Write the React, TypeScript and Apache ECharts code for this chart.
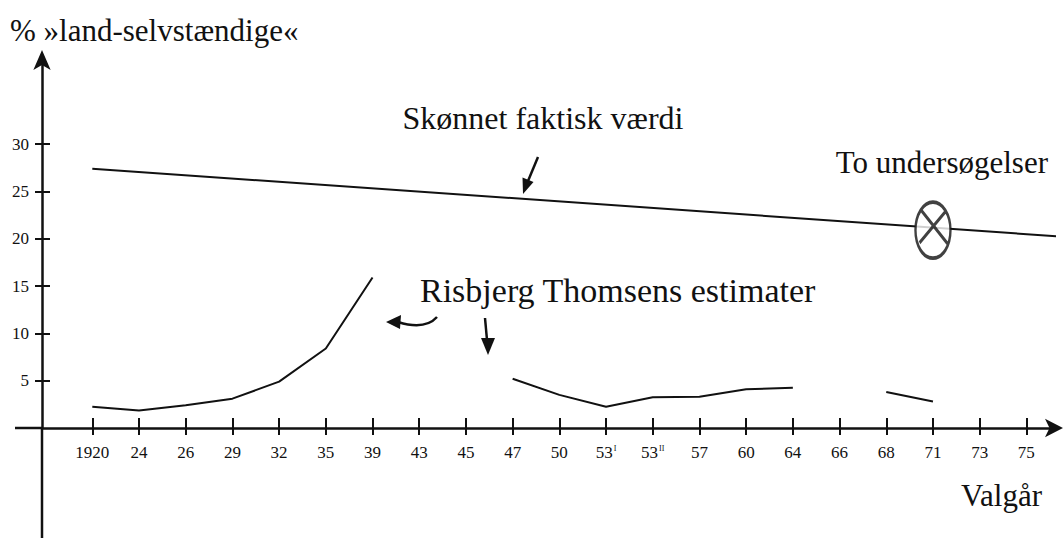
import React, { useEffect, useRef } from "react";
import * as echarts from "echarts";

// ---- data ----
const categories = ["1920", "24", "26", "29", "32", "35", "39", "43", "45", "47", "50", "53I", "53II", "57", "60", "64", "66", "68", "71", "73", "75"];
const risbjerg: (number | null)[] = [2.25, 1.85, 2.4, 3.1, 4.9, 8.4, 15.9, null, null, 5.2, 3.5, 2.25, 3.25, 3.3, 4.1, 4.25, null, 3.8, 2.8, null, null];
const skonnetStart = { cat: "1920", value: 27.4 };
const skonnetEndValue = 20.2; // at right edge of the drawing
const undersogelser = [{ cat: "71", value: 20.9 }];
const yTickValues = [5, 10, 15, 20, 25, 30];

// ---- layout constants ----
const FONT = "Liberation Serif";
const X_OFFSET = 1.077; // 1920 tick, in category steps right of the y-axis
const X_MIN = 0;
const X_MAX = 21.69;
const X_EDGE = 21.89;
const Y_MIN = 0;
const Y_MAX = 39.1;
const AXIS_X = 42; // pixel x of the y-axis
const AXIS_Y = 428; // pixel y of the x-axis

const xOf = (cat: string) => categories.indexOf(cat) + X_OFFSET;
const catValues = categories.map((c) => xOf(c));

function xLabel(v: number) {
  const i = Math.round(v - X_OFFSET);
  const c = categories[i];
  if (!c) return "";
  if (c === "53I") return "53{s|I}";
  if (c === "53II") return "53{s|II}";
  return c;
}

export default function App() {
  const ref = useRef<HTMLDivElement>(null);
  useEffect(() => {
    if (!ref.current) return;
    const chart = echarts.init(ref.current, null, { renderer: "svg" });
    const black = "#111";
    const baseX = {
      type: "value",
      min: X_MIN,
      max: X_MAX,
      position: "bottom",
      splitLine: { show: false },
    };
    const baseY = {
      type: "value",
      min: Y_MIN,
      max: Y_MAX,
      position: "left",
      splitLine: { show: false },
    };
    const option: any = {
      animation: false,
      backgroundColor: "#fff",
      grid: { left: AXIS_X, right: 9, top: 58, bottom: 538 - AXIS_Y, containLabel: false, outerBoundsMode: "none" },
      xAxis: [
        {
          ...baseX,
          axisLine: {
            show: true,
            onZero: false,
            symbol: ["none", "arrow"],
            symbolSize: [14, 18],
            symbolOffset: [0, 8],
            lineStyle: { color: black, width: 2.5 },
          },
          axisTick: { show: true, customValues: catValues, length: 7, inside: false, lineStyle: { color: black, width: 2 } },
          axisLabel: {
            show: true,
            customValues: catValues,
            margin: 16,
            formatter: (v: number) => xLabel(v),
            fontFamily: FONT,
            fontSize: 17,
            color: black,
            rich: { s: { fontFamily: FONT, fontSize: 8, color: black, verticalAlign: "top", padding: [0, 0, 8, 1] } },
          },
        },
        {
          ...baseX,
          axisLine: { show: false, onZero: false },
          axisTick: { show: true, customValues: catValues, length: 10, inside: true, lineStyle: { color: black, width: 2 } },
          axisLabel: { show: false },
        },
      ],
      yAxis: [
        {
          ...baseY,
          axisLine: {
            show: true,
            onZero: false,
            symbol: ["none", "arrow"],
            symbolSize: [13, 20],
            symbolOffset: [0, 8],
            lineStyle: { color: black, width: 2.5 },
          },
          axisTick: { show: true, customValues: yTickValues, length: 7, inside: false, lineStyle: { color: black, width: 2 } },
          axisLabel: {
            show: true,
            customValues: yTickValues,
            margin: 13,
            fontFamily: FONT,
            fontSize: 17,
            color: black,
          },
        },
        {
          ...baseY,
          axisLine: { show: false, onZero: false },
          axisTick: { show: true, customValues: yTickValues, length: 8, inside: true, lineStyle: { color: black, width: 2 } },
          axisLabel: { show: false },
        },
      ],
      series: [
        {
          name: "Skønnet faktisk værdi",
          type: "line",
          xAxisIndex: 0,
          yAxisIndex: 0,
          clip: false,
          showSymbol: false,
          lineStyle: { color: black, width: 2 },
          data: [
            [xOf(skonnetStart.cat), skonnetStart.value],
            [X_EDGE, skonnetEndValue],
          ],
          z: 2,
        },
        {
          name: "Risbjerg Thomsens estimater",
          type: "line",
          xAxisIndex: 0,
          yAxisIndex: 0,
          showSymbol: false,
          connectNulls: false,
          lineStyle: { color: black, width: 2 },
          data: categories.map((c, i) => [xOf(c), risbjerg[i] == null ? "-" : risbjerg[i]]),
          z: 2,
        },
        {
          name: "To undersøgelser",
          type: "scatter",
          xAxisIndex: 0,
          yAxisIndex: 0,
          symbol:
            "path://M17,1 C26.5,1 34,13 34,28 C34,43 26.5,55 17,55 C7.5,55 0,43 0,28 C0,13 7.5,1 17,1 Z M5,8 L32,42 M30,9 L4,40",
          symbolSize: [35, 56],
          itemStyle: { color: "#fff", borderColor: black, borderWidth: 3 },
          data: undersogelser.map((d) => [xOf(d.cat), d.value]),
          z: 5,
        },
      ],
      graphic: [
        // axis-line extensions past the origin
        { type: "line", shape: { x1: 15, y1: AXIS_Y, x2: AXIS_X, y2: AXIS_Y }, style: { stroke: black, lineWidth: 2.5 } },
        { type: "line", shape: { x1: AXIS_X, y1: AXIS_Y, x2: AXIS_X, y2: 538 }, style: { stroke: black, lineWidth: 2.5 } },
        { type: "text", x: 10, y: 30, style: { text: "% »land-selvstændige«", font: `31px '${FONT}'`, fill: black, textAlign: "left", textVerticalAlign: "middle" } },
        { type: "text", x: 543, y: 118, style: { text: "Skønnet faktisk værdi", font: `32px '${FONT}'`, fill: black, textAlign: "center", textVerticalAlign: "middle" } },
        { type: "text", x: 1048, y: 162, style: { text: "To undersøgelser", font: `31px '${FONT}'`, fill: black, textAlign: "right", textVerticalAlign: "middle" } },
        { type: "text", x: 420, y: 290, style: { text: "Risbjerg Thomsens estimater", font: `34px '${FONT}'`, fill: black, textAlign: "left", textVerticalAlign: "middle" } },
        { type: "text", x: 1042, y: 495, style: { text: "Valgår", font: `31px '${FONT}'`, fill: black, textAlign: "right", textVerticalAlign: "middle" } },
        // arrow under "Skønnet faktisk værdi"
        { type: "line", shape: { x1: 538, y1: 157, x2: 528, y2: 181 }, style: { stroke: black, lineWidth: 2.5 } },
        { type: "polygon", shape: { points: [[523, 194], [533.5, 182], [522.5, 177.5]] }, style: { fill: black } },
        // curved arrow pointing left
        { type: "bezierCurve", shape: { x1: 398, y1: 322, cpx1: 414, cpy1: 327, cpx2: 428, cpy2: 327, x2: 437, y2: 317 }, style: { stroke: black, lineWidth: 2.5, fill: null } },
        { type: "polygon", shape: { points: [[386, 322], [401, 315], [400, 329]] }, style: { fill: black } },
        // down arrow
        { type: "line", shape: { x1: 485, y1: 318, x2: 487, y2: 340 }, style: { stroke: black, lineWidth: 2.5 } },
        { type: "polygon", shape: { points: [[488, 355], [481, 338], [495, 338]] }, style: { fill: black } },
      ],
    };
    chart.setOption(option);
    return () => chart.dispose();
  }, []);
  return (
    <div
      ref={ref}
      style={{ position: "fixed", left: 0, top: 0, width: 1064, height: 538, background: "#fff" }}
    />
  );
}
